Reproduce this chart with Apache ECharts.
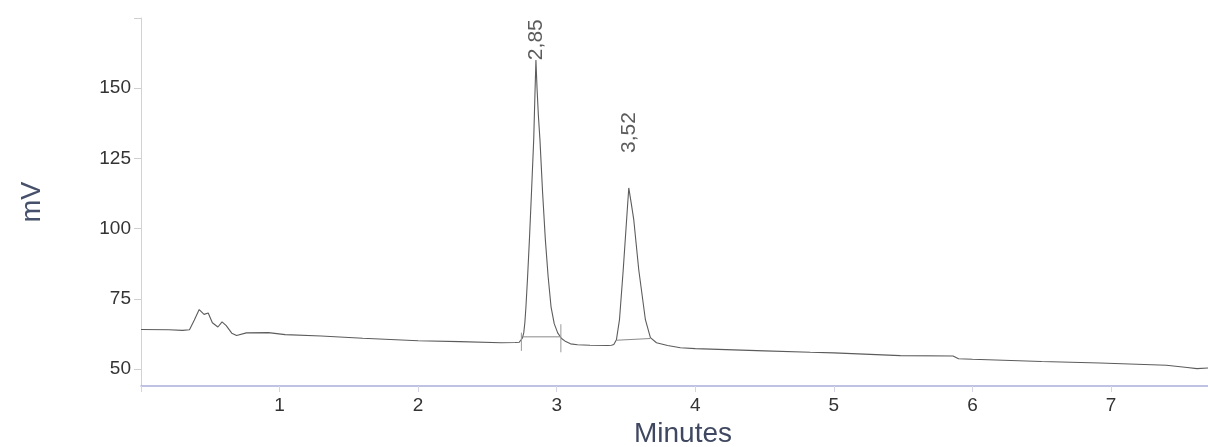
<!DOCTYPE html>
<html>
<head>
<meta charset="utf-8">
<script src="https://cdn.jsdelivr.net/npm/echarts@6/dist/echarts.min.js"></script>
<style>
  html, body { margin: 0; padding: 0; background: #ffffff; }
  #chart { width: 1208px; height: 447px; }
</style>
</head>
<body>
<div id="chart"></div>
<script>
// Chromatogram trace: retention time (min) and detector signal (mV)
const traceTime = [
  0.00, 0.20, 0.30, 0.35, 0.385, 0.42, 0.455, 0.485, 0.515, 0.555, 0.585, 0.615, 0.655, 0.69,
  0.76, 0.92, 1.04, 1.30, 1.60, 2.00, 2.30, 2.60, 2.70, 2.73,
  2.74, 2.752, 2.762, 2.770, 2.778, 2.790, 2.803, 2.818, 2.834, 2.843, 2.850,
  2.858, 2.868, 2.879, 2.898, 2.918, 2.938, 2.959, 2.982, 3.007, 3.035, 3.065,
  3.10, 3.15, 3.24, 3.37, 3.395,
  3.412, 3.431, 3.453, 3.480, 3.500, 3.520,
  3.538, 3.556, 3.592, 3.640, 3.676, 3.72, 3.80, 3.893,
  4.00, 4.50, 4.83, 5.00, 5.48, 5.86, 5.90, 6.00, 6.50, 6.92, 7.40, 7.55, 7.62, 7.70
];
const traceMv = [
  64.1, 64.0, 63.8, 64.0, 67.5, 71.2, 69.5, 70.0, 66.5, 65.0, 66.8, 65.5, 62.8, 62.0,
  62.9, 63.0, 62.3, 61.8, 61.0, 60.1, 59.8, 59.4, 59.5, 59.6,
  59.9, 61.0, 62.9, 66.5, 72.2, 83.0, 96.1, 113.0, 131.7, 148.0, 160.0,
  150.0, 140.0, 131.7, 113.0, 96.1, 83.0, 72.2, 66.2, 62.9, 60.9, 59.8,
  59.0, 58.7, 58.5, 58.4, 58.5,
  58.8, 60.5, 67.6, 85.4, 100.0, 114.5,
  109.0, 103.2, 85.4, 67.6, 61.2, 59.4, 58.4, 57.6,
  57.3, 56.5, 56.0, 55.8, 54.8, 54.7, 53.7, 53.5, 52.7, 52.2, 51.4, 50.6, 50.2, 50.4
];

// Integrated peaks: retention time labels and apex heights
const peakTimes = [2.85, 3.52];
const peakHeights = [160.0, 114.5];

// Integration baselines drawn under the peaks
const baseline1 = [[2.745, 61.5], [3.03, 61.5]];
const baseline2 = [[3.435, 60.3], [3.675, 60.9]];
const peakMarkers = [
  [[2.745, 63.0], [2.745, 56.5]],
  [[3.03, 66.0], [3.03, 56.0]]
];

// Axis tick labels
const yTicks = [50, 75, 100, 125, 150];
const xTicks = [1, 2, 3, 4, 5, 6, 7];

const chart = echarts.init(document.getElementById('chart'), null, { renderer: 'canvas' });

const traceData = traceTime.map((t, i) => [t, traceMv[i]]);
const labelGap = [0, 35];

const series = [
  {
    type: 'line',
    data: traceData,
    showSymbol: false,
    lineStyle: { color: '#5c5c5c', width: 1.1 },
    animation: false,
    z: 3
  },
  {
    type: 'line',
    data: baseline1,
    showSymbol: false,
    lineStyle: { color: '#8a8a8a', width: 1 },
    animation: false
  },
  {
    type: 'line',
    data: baseline2,
    showSymbol: false,
    lineStyle: { color: '#8a8a8a', width: 1 },
    animation: false
  }
];
peakMarkers.forEach(seg => {
  series.push({
    type: 'line',
    data: seg,
    showSymbol: false,
    lineStyle: { color: '#9a9a9a', width: 1 },
    animation: false
  });
});
series.push({
  type: 'scatter',
  symbolSize: 0,
  animation: false,
  data: peakTimes.map((t, i) => ({
    value: [t, peakHeights[i]],
    label: {
      show: true,
      position: 'top',
      distance: labelGap[i],
      rotate: 90,
      align: 'left',
      verticalAlign: 'middle',
      formatter: () => t.toFixed(2).replace('.', ','),
      fontFamily: 'Liberation Sans',
      fontSize: 21,
      color: '#333333'
    }
  }))
});

chart.setOption({
  backgroundColor: '#ffffff',
  animation: false,
  grid: {
    left: 141, right: 0, top: 18, bottom: 61,
    containLabel: false,
    outerBoundsMode: 'none'
  },
  xAxis: {
    type: 'value',
    min: 0,
    max: 7.7,
    interval: 1,
    name: 'Minutes',
    nameLocation: 'middle',
    nameGap: 34,
    nameTextStyle: {
      fontFamily: 'Liberation Sans',
      fontSize: 28,
      color: '#3f4860',
      padding: [0, 0, 0, 17]
    },
    axisLine: { show: true, onZero: false, lineStyle: { color: '#acaedb', width: 1.5 } },
    axisTick: { show: true, length: 6, lineStyle: { color: '#d4d4e4' } },
    axisLabel: {
      margin: 10,
      fontFamily: 'Liberation Sans',
      fontSize: 19,
      color: '#333333',
      formatter: v => (xTicks.includes(Math.round(v * 1000) / 1000) ? String(v) : '')
    },
    splitLine: { show: false }
  },
  yAxis: {
    type: 'value',
    min: 44,
    max: 175,
    interval: 25,
    name: 'mV',
    nameLocation: 'middle',
    nameRotate: 90,
    nameGap: 95,
    nameTextStyle: {
      fontFamily: 'Liberation Sans',
      fontSize: 27,
      color: '#46506a'
    },
    axisLine: { show: true, lineStyle: { color: '#d2d2d2', width: 1 } },
    axisTick: {
      show: true,
      length: 7,
      lineStyle: { color: '#cfcfcf' },
      customValues: yTicks.concat([175])
    },
    axisLabel: {
      margin: 10,
      fontFamily: 'Liberation Sans',
      fontSize: 19,
      color: '#333333',
      customValues: yTicks,
      formatter: v => (yTicks.includes(v) ? String(v) : '')
    },
    splitLine: { show: false }
  },
  series: series
});
</script>
</body>
</html>
